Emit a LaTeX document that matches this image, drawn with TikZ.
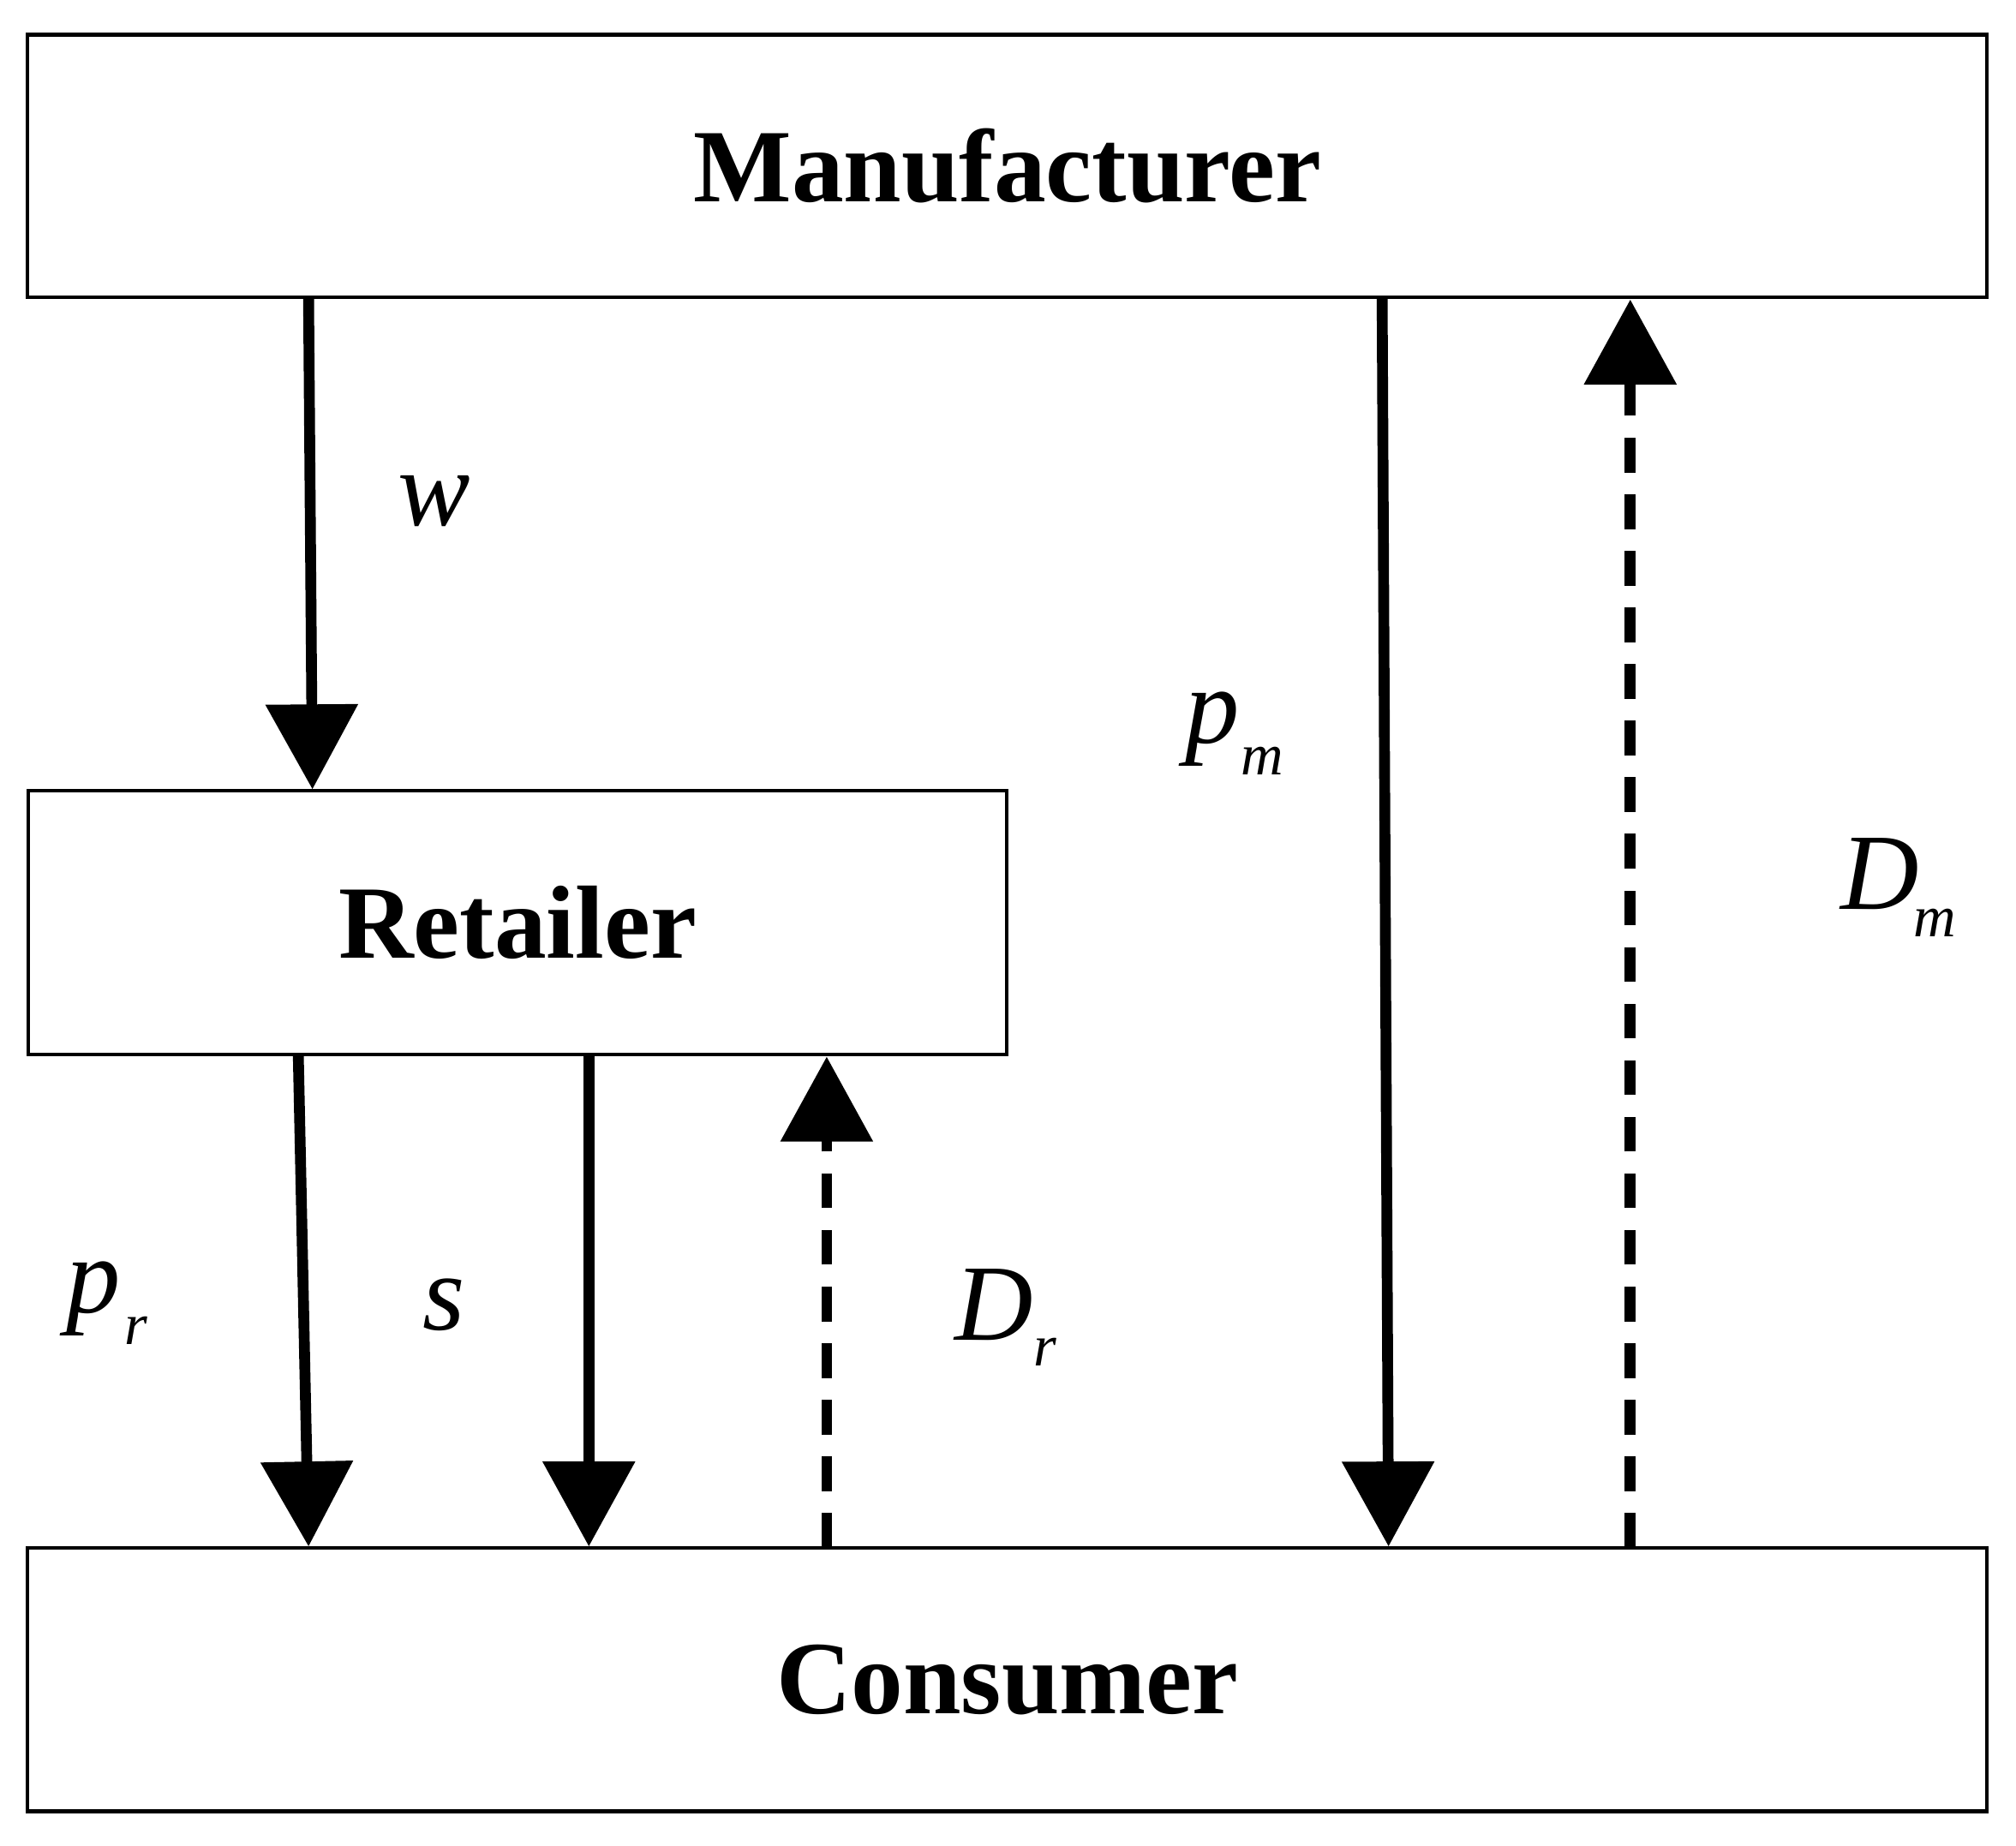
\documentclass[tikz,border=0pt]{standalone}
\usepackage{fontspec}
\setmainfont{Liberation Serif}
\usetikzlibrary{arrows.meta}
\begin{document}
\begin{tikzpicture}[x=0.01cm,y=-0.01cm,
 box/.style={draw,line width=0.8pt,inner sep=0pt,font=\bfseries\fontsize{23}{28}\selectfont},
 arr/.style={line width=2.4pt,-{Triangle[width=0.7cm,length=0.66cm]}},
 dasharr/.style={arr,dash pattern=on 0.27cm off 0.17cm},
 lab/.style={font=\itshape\fontsize{24}{28}\selectfont},
 sub/.style={font=\itshape\fontsize{13}{15}\selectfont}]
\useasboundingbox (0,0) rectangle (1568,1436);
\node[box,minimum width=15.23cm,minimum height=2.04cm] (M) at (783.5,129) {Manufacturer};
\node[box,minimum width=7.61cm,minimum height=2.05cm] (R) at (402.5,717.5) {Retailer};
\node[box,minimum width=15.23cm,minimum height=2.05cm] (C) at (783.5,1306.5) {Consumer};
\coordinate (w1) at (240,231); \coordinate (w2) at (243,614);
\coordinate (pm1) at (1075,231); \coordinate (pm2) at (1080,1203);
\coordinate (dm1) at (1268,1204); \coordinate (dm2) at (1268,233);
\coordinate (pr1) at (232,820); \coordinate (pr2) at (240,1203);
\coordinate (s1) at (458,820); \coordinate (s2) at (458,1203);
\coordinate (dr1) at (643,1204); \coordinate (dr2) at (643,822);
\draw[arr] (w1) -- (w2);
\draw[arr] (pm1) -- (pm2);
\draw[dasharr] (dm1) -- (dm2);
\draw[arr] (pr1) -- (pr2);
\draw[arr] (s1) -- (s2);
\draw[dasharr] (dr1) -- (dr2);
\node[lab] (lw) at (338,390) {w};
\node[lab] (lpm) at (943,567) {p}; \node[sub] (lpms) at (982,592) {m};
\node[lab] (ldm) at (1462,680) {D}; \node[sub] (ldms) at (1505,718) {m};
\node[lab] (lpr) at (73,1010) {p}; \node[sub] (lprs) at (106,1035) {r};
\node[lab] (ls) at (345,1015) {s};
\node[lab] (ldr) at (773,1015) {D}; \node[sub] (ldrs) at (813,1052) {r};
\end{tikzpicture}
\end{document}
